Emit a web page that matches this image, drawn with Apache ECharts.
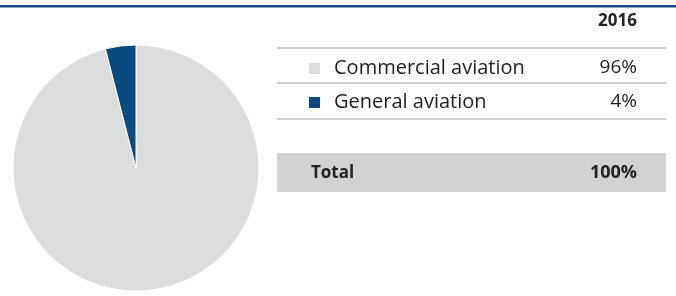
<!DOCTYPE html>
<html>
<head>
<meta charset="utf-8">
<script src="https://cdn.jsdelivr.net/npm/echarts@6/dist/echarts.min.js"></script>
<style>
  html, body { margin: 0; padding: 0; background: #fff; }
  #chart { width: 676px; height: 296px; }
</style>
</head>
<body>
<div id="chart"></div>
<script>
// data
const year = '2016'
const categories = ['Commercial aviation', 'General aviation']
const shares = [96, 4]
const colors = ['#dcdddd', '#0b4a80']
const totalLabel = 'Total'
const totalValue = 100

const font = '"Open Sans", "Noto Sans", sans-serif'
const tableLeft = 277
const tableRight = 666
const valueRight = 637
const rowY = [68, 102]      // text centre of each row
const lineY = [48, 83, 119] // grey rules

const graphic = []
// top blue rule
graphic.push({ type: 'rect', shape: { x: 0, y: 5, width: 676, height: 2.5 }, style: { fill: '#1d4f80' } })
// year header
graphic.push({
  type: 'text', x: valueRight, y: 21,
  style: { text: year, font: 'bold 17px ' + font, fill: '#222', align: 'right', verticalAlign: 'middle' }
})
lineY.forEach(y => {
  graphic.push({ type: 'rect', shape: { x: tableLeft, y: y - 1, width: tableRight - tableLeft, height: 2 }, style: { fill: '#cfcfcf' } })
})
categories.forEach((name, i) => {
  graphic.push({ type: 'rect', shape: { x: 309, y: rowY[i] - 5, width: 11, height: 11 }, style: { fill: colors[i] } })
  graphic.push({
    type: 'text', x: 334, y: rowY[i],
    style: { text: name, font: '20px ' + font, fill: '#1e1e1e', verticalAlign: 'middle' }
  })
  graphic.push({
    type: 'text', x: valueRight, y: rowY[i],
    style: { text: shares[i] + '%', font: '19px ' + font, fill: '#1e1e1e', align: 'right', verticalAlign: 'middle' }
  })
})
// total band
graphic.push({ type: 'rect', shape: { x: tableLeft, y: 153, width: tableRight - tableLeft, height: 39 }, style: { fill: '#d2d2d2' } })
graphic.push({
  type: 'text', x: 311, y: 173,
  style: { text: totalLabel, font: 'bold 17px ' + font, fill: '#222', verticalAlign: 'middle' }
})
graphic.push({
  type: 'text', x: valueRight, y: 173,
  style: { text: totalValue + '%', font: 'bold 18px ' + font, fill: '#222', align: 'right', verticalAlign: 'middle' }
})

const chart = echarts.init(document.getElementById('chart'))
chart.setOption({
  animation: false,
  graphic,
  series: [{
    type: 'pie',
    center: [136, 168],
    radius: [0, 123],
    startAngle: 90,
    clockwise: true,
    label: { show: false },
    labelLine: { show: false },
    itemStyle: { borderColor: '#fff', borderWidth: 1 },
    emphasis: { disabled: true },
    data: categories.map((name, i) => ({ name, value: shares[i], itemStyle: { color: colors[i] } }))
  }]
})
</script>
</body>
</html>
